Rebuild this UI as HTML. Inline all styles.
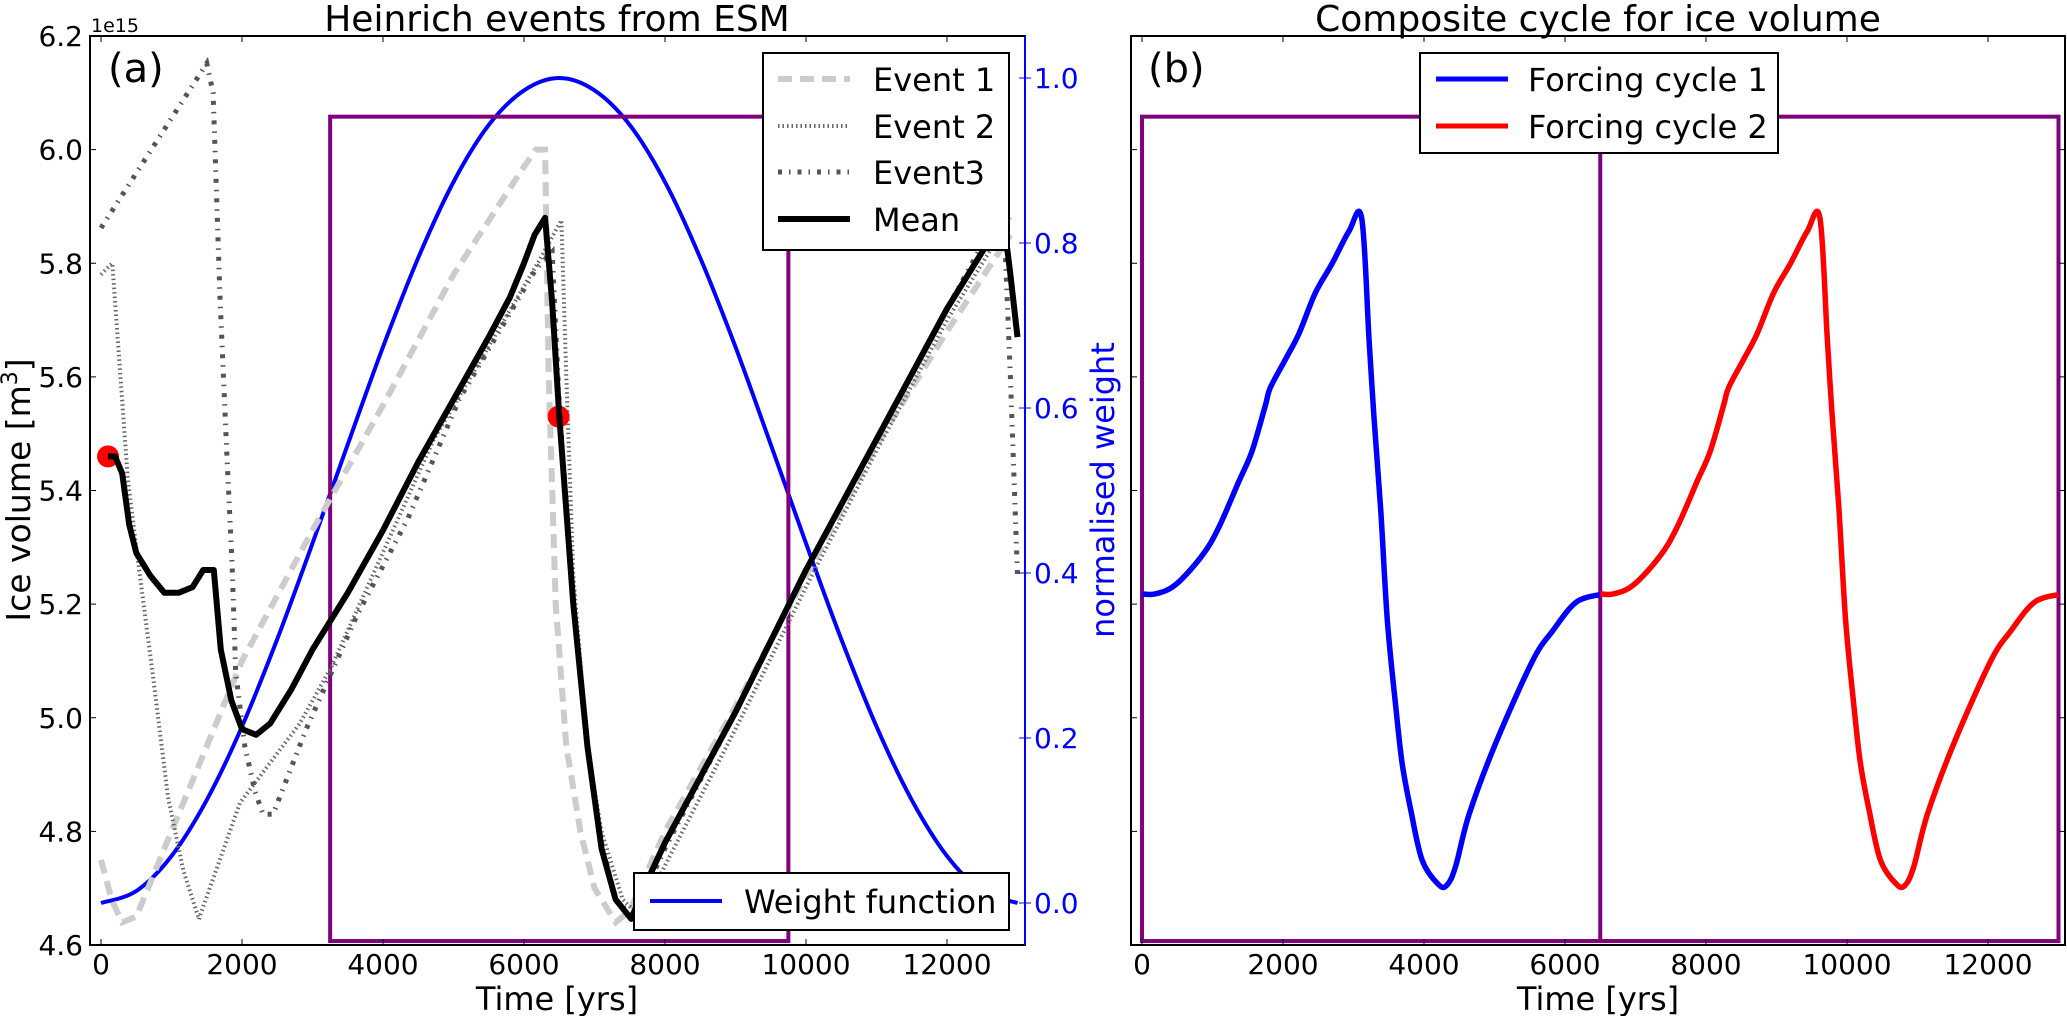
<!DOCTYPE html>
<html><head><meta charset="utf-8">
<style>
html,body{margin:0;padding:0;background:#fff;}
svg{display:block;font-family:"DejaVu Sans","Liberation Sans",sans-serif;}
</style></head>
<body>
<svg id="chart" width="2067" height="1016" viewBox="0 0 2067 1016" xmlns="http://www.w3.org/2000/svg">
<rect width="2067" height="1016" fill="#fff"/>
<g id="panelA"></g>
<g id="panelB"></g>
</svg>
<script>
// ---------- data ----------
const event1T = [0,150,300,500,1000,1500,2000,3000,4000,5000,6000,6170,6300,6350,6450,6600,6800,7000,7300,7500,8000,9000,10000,11000,12000,12900];
const event1V = [4.75,4.68,4.64,4.65,4.8,4.95,5.1,5.33,5.55,5.78,5.97,6.0,6.0,5.6,5.2,4.95,4.8,4.7,4.64,4.66,4.8,5.02,5.25,5.48,5.68,5.85];
const event2T = [0,160,380,520,740,950,1170,1390,1400,1970,2820,3270,4720,6240,6530,6600,6700,6900,7100,7400,7650,8000,9000,10000,11000,12000,12900];
const event2V = [5.78,5.8,5.42,5.28,5.07,4.86,4.73,4.645,4.65,4.85,4.99,5.09,5.49,5.81,5.876,5.6,5.25,4.95,4.8,4.68,4.65,4.74,4.98,5.23,5.47,5.7,5.88];
const event3T = [0,1500,1590,1690,1790,1860,1910,2040,2185,2300,2440,2910,3630,4350,5080,6170,6400,6500,6700,6900,7100,7300,7550,8000,9000,10000,11000,12000,12800,12900,13000];
const event3V = [5.862,6.152,6.1,5.735,5.45,5.27,5.08,4.95,4.87,4.83,4.83,4.98,5.18,5.35,5.56,5.79,5.82,5.55,5.2,4.95,4.78,4.68,4.65,4.77,5.01,5.26,5.49,5.72,5.9,5.6,5.25];
const meanT = [100,200,300,400,500,700,900,1100,1300,1450,1600,1700,1850,2000,2200,2400,2700,3000,3500,4000,4500,5000,5500,5800,6000,6150,6300,6400,6500,6700,6900,7100,7300,7520,7700,8000,9000,10000,11000,12000,12500,12800,12900,13000];
const meanV = [5.46,5.46,5.43,5.34,5.29,5.25,5.22,5.22,5.23,5.26,5.26,5.12,5.03,4.98,4.97,4.99,5.05,5.12,5.22,5.33,5.45,5.56,5.67,5.74,5.8,5.85,5.88,5.73,5.53,5.2,4.95,4.77,4.68,4.646,4.7,4.78,5.01,5.26,5.49,5.72,5.82,5.88,5.78,5.67];
const weightT = [0,500,1000,1500,2000,2500,3000,3500,4000,4500,5000,5500,6000,6500,7000,7500,8000,8500,9000,9500,10000,10500,11000,11500,12000,12500,13000];
const weightV = [0,0.0145,0.057,0.125,0.214,0.32,0.436,0.556,0.674,0.782,0.874,0.943,0.985,1.0,0.985,0.943,0.874,0.782,0.674,0.556,0.436,0.32,0.214,0.125,0.057,0.0145,0];
const dotT = [100,6490];
const dotV = [5.46,5.53];
const cycleT = [0,190,475,850,1085,1370,1560,1750,1820,2035,2225,2460,2700,2935,3115,3220,3290,3385,3480,3600,3690,3810,3975,4210,4330,4450,4640,5020,5540,5825,6155,6500];
const cycleV = [5.218,5.218,5.234,5.285,5.334,5.415,5.469,5.55,5.581,5.631,5.676,5.748,5.8,5.856,5.88,5.667,5.531,5.369,5.172,5.019,4.92,4.839,4.749,4.706,4.706,4.739,4.83,4.956,5.10,5.153,5.203,5.217];
const cycleShift = [0,6500];
const boxA = [3250,9750,4.607,6.058];
const boxB = [0,6500,13000,4.607,6.058];
const xTicks = [0,2000,4000,6000,8000,10000,12000];
const xTickLabels = ["0","2000","4000","6000","8000","10000","12000"];
const yTicks = [4.6,4.8,5.0,5.2,5.4,5.6,5.8,6.0,6.2];
const yTickLabels = ["4.6","4.8","5.0","5.2","5.4","5.6","5.8","6.0","6.2"];
const wTicks = [0,0.2,0.4,0.6,0.8,1.0];
const wTickLabels = ["0.0","0.2","0.4","0.6","0.8","1.0"];

// ---------- axes ----------
const PXK=0.0705;
const A = {left:90, right:1025, top:36, bottom:945, x0:101};
const B = {left:1131, right:2065, top:36, bottom:945, x0:1142};
function xA(t){return A.x0 + t*PXK;}
function xB(t){return B.x0 + t*PXK;}
function yV(v){return 945 - (v-4.6)*568.125;}
function yW(w){return 903 - w*825;}

const NS="http://www.w3.org/2000/svg";
function mk(tag, parent, attrs){
  const e=document.createElementNS(NS,tag);
  for(const k in attrs) e.setAttribute(k, attrs[k]);
  parent.appendChild(e); return e;
}
function pathD(xs, ys, fx, fy){
  return xs.map((t,i)=>(i?'L':'M')+fx(t).toFixed(1)+','+fy(ys[i]).toFixed(1)).join(' ');
}
function smoothD(xs, ys, fx, fy){
  const p = xs.map((t,i)=>[fx(t), fy(ys[i])]);
  let d='M'+p[0][0].toFixed(1)+','+p[0][1].toFixed(1);
  for(let i=0;i<p.length-1;i++){
    const p0=p[Math.max(0,i-1)], p1=p[i], p2=p[i+1], p3=p[Math.min(p.length-1,i+2)];
    const c1=[p1[0]+(p2[0]-p0[0])/6, p1[1]+(p2[1]-p0[1])/6];
    const c2=[p2[0]-(p3[0]-p1[0])/6, p2[1]-(p3[1]-p1[1])/6];
    d+=' C'+c1[0].toFixed(1)+','+c1[1].toFixed(1)+' '+c2[0].toFixed(1)+','+c2[1].toFixed(1)+' '+p2[0].toFixed(1)+','+p2[1].toFixed(1);
  }
  return d;
}

const gA=document.getElementById('panelA');
const gB=document.getElementById('panelB');

// ----- Panel A -----
let el;
el = mk('path', gA, {d:smoothD(weightT, weightV, xA, yW), fill:'none', stroke:'#0000ff', 'stroke-width':4});



el = mk('rect', gA, {x:xA(boxA[0]), y:yV(boxA[3]), width:xA(boxA[1])-xA(boxA[0]), height:yV(boxA[2])-yV(boxA[3]), fill:'none', stroke:'#800080', 'stroke-width':4});



el = mk('path', gA, {d:pathD(event1T, event1V, xA, yV), fill:'none', stroke:'#cccccc', 'stroke-width':6, 'stroke-dasharray':'14,8'});


el = mk('path', gA, {d:pathD(event2T, event2V, xA, yV), fill:'none', stroke:'#666666', 'stroke-width':4, 'stroke-dasharray':'1.5,3'});


el = mk('path', gA, {d:pathD(event3T, event3V, xA, yV), fill:'none', stroke:'#555555', 'stroke-width':5, 'stroke-dasharray':'4,7,1.5,7'});



dotT.forEach((t,i)=>{
  const c = mk('circle', gA, {cx:xA(t), cy:yV(dotV[i]), r:11, fill:'#ff0000'});
  
  
});
el = mk('path', gA, {d:pathD(meanT, meanV, xA, yV), fill:'none', stroke:'#000', 'stroke-width':6, 'stroke-linejoin':'round'});



// frame A
el = mk('rect', gA, {x:A.left, y:A.top, width:A.right-A.left, height:A.bottom-A.top, fill:'none', stroke:'#000', 'stroke-width':2});


mk('line', gA, {x1:A.right, y1:A.top, x2:A.right, y2:A.bottom, stroke:'#0000ff', 'stroke-width':2});

function xTicksFor(g, fx, top, bottom){
  xTicks.forEach((t,i)=>{
    const x=fx(t);
    mk('line', g, {x1:x, y1:bottom, x2:x, y2:bottom-6, stroke:'#000', 'stroke-width':1});
    mk('line', g, {x1:x, y1:top, x2:x, y2:top+6, stroke:'#000', 'stroke-width':1});
    const tx = mk('text', g, {x:x, y:bottom+29, 'font-size':28, 'text-anchor':'middle', fill:'#000'});
    tx.textContent = xTickLabels[i];
    
    
  });
}
function yTicksFor(g, left, right, labels){
  yTicks.forEach((v,i)=>{
    const y=yV(v);
    mk('line', g, {x1:left, y1:y, x2:left+6, y2:y, stroke:'#000', 'stroke-width':1});
    if(right!==null) mk('line', g, {x1:right, y1:y, x2:right-6, y2:y, stroke:'#000', 'stroke-width':1});
    if(labels){
      const tx = mk('text', g, {x:left-7, y:y+10, 'font-size':28, 'text-anchor':'end', fill:'#000'});
      tx.textContent = yTickLabels[i];
      
      
    }
  });
}
xTicksFor(gA, xA, A.top, A.bottom);
yTicksFor(gA, A.left, null, true);
wTicks.forEach((w,i)=>{
  const y=yW(w);
  mk('line', gA, {x1:A.right, y1:y, x2:A.right-6, y2:y, stroke:'#0000ff', 'stroke-width':1});
  mk('line', gA, {x1:A.right, y1:y, x2:A.right+6, y2:y, stroke:'#0000ff', 'stroke-width':1});
  const tx = mk('text', gA, {x:A.right+9, y:y+10, 'font-size':28, fill:'#0000ff'});
  tx.textContent = wTickLabels[i];
  
  
});

// ----- Panel B -----
el = mk('rect', gB, {x:xB(boxB[0]), y:yV(boxB[4]), width:xB(boxB[2])-xB(boxB[0]), height:yV(boxB[3])-yV(boxB[4]), fill:'none', stroke:'#800080', 'stroke-width':4});


el = mk('line', gB, {x1:xB(boxB[1]), y1:yV(boxB[4]), x2:xB(boxB[1]), y2:yV(boxB[3]), stroke:'#800080', 'stroke-width':4});


const cycleColors = ['#0000ff','#ff0000'];
cycleShift.forEach((s,k)=>{
  const ts = cycleT.map(t=>t+s);
  const p = mk('path', gB, {d:smoothD(ts, cycleV, xB, yV), fill:'none', stroke:cycleColors[k], 'stroke-width':5.5, 'stroke-linejoin':'round'});
  
  
});
el = mk('rect', gB, {x:B.left, y:B.top, width:B.right-B.left, height:B.bottom-B.top, fill:'none', stroke:'#000', 'stroke-width':2});


xTicksFor(gB, xB, B.top, B.bottom);
yTicksFor(gB, B.left, B.right, false);
</script>

<!-- static text and legends overlay -->
<svg style="position:absolute;left:0;top:0" width="2067" height="1016" xmlns="http://www.w3.org/2000/svg" font-family="DejaVu Sans, Liberation Sans, sans-serif">
  <text x="557" y="31" font-size="36" text-anchor="middle">Heinrich events from ESM</text>
  <text x="1598" y="31" font-size="36" text-anchor="middle">Composite cycle for ice volume</text>
  <text x="91" y="32" font-size="19">1e15</text>
  <text x="108" y="82" font-size="40">(a)</text>
  <text x="1148" y="82" font-size="40">(b)</text>
  <text transform="translate(30,490) rotate(-90)" font-size="33" text-anchor="middle">Ice volume [m<tspan font-size="22" dy="-13">3</tspan><tspan dy="13">]</tspan></text>
  <text transform="translate(1114,490) rotate(-90)" font-size="32" text-anchor="middle" fill="#0000ff">normalised weight</text>
  <text x="557" y="1010" font-size="32" text-anchor="middle">Time [yrs]</text>
  <text x="1598" y="1010" font-size="32" text-anchor="middle">Time [yrs]</text>

  <g>
    <rect x="763" y="53" width="246" height="197" fill="#fff" stroke="#000" stroke-width="2"/>
    <line x1="778" y1="79" x2="850" y2="79" stroke="#cccccc" stroke-width="6" stroke-dasharray="14,8"/>
    <text x="873" y="91" font-size="32">Event 1</text>
    <line x1="778" y1="126" x2="850" y2="126" stroke="#666" stroke-width="4" stroke-dasharray="1.5,3"/>
    <text x="873" y="138" font-size="32">Event 2</text>
    <line x1="778" y1="172" x2="850" y2="172" stroke="#555" stroke-width="5" stroke-dasharray="4,7,1.5,7"/>
    <text x="873" y="184" font-size="32">Event3</text>
    <line x1="778" y1="219" x2="850" y2="219" stroke="#000" stroke-width="6"/>
    <text x="873" y="231" font-size="32">Mean</text>
  </g>
  <g>
    <rect x="634" y="873" width="375" height="57" fill="#fff" stroke="#000" stroke-width="2"/>
    <line x1="650" y1="901" x2="722" y2="901" stroke="#0000ff" stroke-width="4"/>
    <text x="744" y="913" font-size="32">Weight function</text>
  </g>
  <g>
    <rect x="1420" y="53" width="358" height="100" fill="#fff" stroke="#000" stroke-width="2"/>
    <line x1="1436" y1="79" x2="1508" y2="79" stroke="#0000ff" stroke-width="5"/>
    <text x="1528" y="91" font-size="32">Forcing cycle 1</text>
    <line x1="1436" y1="126" x2="1508" y2="126" stroke="#ff0000" stroke-width="5"/>
    <text x="1528" y="138" font-size="32">Forcing cycle 2</text>
  </g>
</svg>
</body></html>
